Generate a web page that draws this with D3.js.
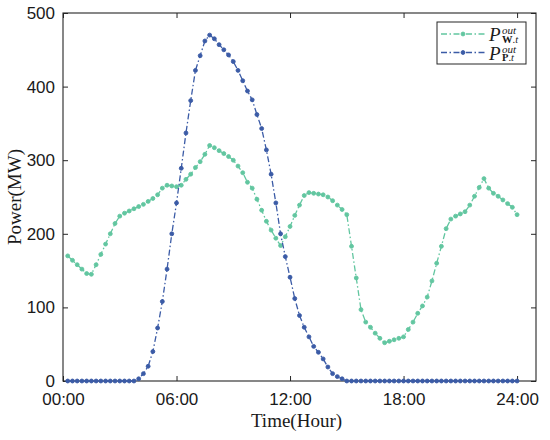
<!DOCTYPE html>
<html>
<head>
<meta charset="utf-8">
<script src="https://cdn.jsdelivr.net/npm/d3@7"></script>
<style>
  body { margin: 0; background: #fff; }
  svg { display: block; }
</style>
</head>
<body>
<div id="chart"></div>
<script>
// 15-minute steps, 00:15 .. 24:00
var stepHours = 0.25;
var timeSteps = d3.range(1, 97).map(function(k) { return k * stepHours; });

var xTicks = [0, 6, 12, 18, 24];
var yTicks = [0, 100, 200, 300, 400, 500];

// wind output P_W,t (MW)
var windOut = [
  170, 164, 158, 152, 146, 145, 158, 172, 186, 200, 214, 224,
  228, 231, 234, 237, 240, 244, 248, 253, 262, 266, 265, 264,
  266, 274, 281, 290, 298, 308, 320, 317, 313, 309, 305, 300,
  292, 283, 270, 262, 247, 232, 217, 205, 194, 184, 196, 210,
  225, 239, 252, 256, 255, 254, 253, 250, 245, 239, 233, 226,
  183, 140, 97, 80, 73, 65, 58, 52, 54, 56, 58, 60,
  70, 80, 92, 102, 114, 136, 160, 183, 207, 220, 224, 227,
  230, 239, 251, 263, 275, 262, 255, 251, 246, 241, 236, 226
];

// PV output P_P,t (MW)
var pvOut = [
  0, 0, 0, 0, 0, 0, 0, 0, 0, 0, 0, 0,
  0, 0, 0, 3, 10, 20, 40, 72, 108, 152, 200, 242,
  289, 337, 381, 422, 442, 462, 470, 465, 457, 450, 443, 434,
  422, 408, 394, 382, 362, 343, 314, 281, 242, 200, 169, 141,
  112, 89, 73, 60, 47, 39, 30, 19, 10, 6, 3, 0,
  0, 0, 0, 0, 0, 0, 0, 0, 0, 0, 0, 0,
  0, 0, 0, 0, 0, 0, 0, 0, 0, 0, 0, 0,
  0, 0, 0, 0, 0, 0, 0, 0, 0, 0, 0, 0
];

var windColor = "#62c6a0";
var pvColor = "#3b5ba6";
var axisColor = "#262626";
var dashDot = "6,2.5,1.5,2.5";
var serif = "'Times New Roman', 'Liberation Serif', serif";

var width = 550, height = 440;
var marginLeft = 63, marginRight = 14, marginTop = 13, marginBottom = 59;
var plotRight = width - marginRight;
var plotBottom = height - marginBottom;

var svg = d3.select("#chart").append("svg")
    .attr("width", width)
    .attr("height", height);

var xScale = d3.scaleLinear().domain([0, 25]).range([marginLeft, plotRight]);
var yScale = d3.scaleLinear().domain([0, 500]).range([plotBottom, marginTop]);

var hourFmt = function(h) { return d3.format("02d")(h) + ":00"; };

// bottom axis, ticks inward
var xAxis = svg.append("g")
    .attr("transform", "translate(0," + plotBottom + ")")
    .call(d3.axisBottom(xScale).tickValues(xTicks).tickFormat(hourFmt).tickSizeInner(-5).tickSizeOuter(0).tickPadding(12));
// left axis
var yAxis = svg.append("g")
    .attr("transform", "translate(" + marginLeft + ",0)")
    .call(d3.axisLeft(yScale).tickValues(yTicks).tickSizeInner(-5).tickSizeOuter(0).tickPadding(8));
// top + right ticks without labels
var xAxisTop = svg.append("g")
    .attr("transform", "translate(0," + marginTop + ")")
    .call(d3.axisTop(xScale).tickValues(xTicks).tickFormat("").tickSizeInner(-5).tickSizeOuter(0));
var yAxisRight = svg.append("g")
    .attr("transform", "translate(" + plotRight + ",0)")
    .call(d3.axisRight(yScale).tickValues(yTicks).tickFormat("").tickSizeInner(-5).tickSizeOuter(0));

[xAxis, yAxis, xAxisTop, yAxisRight].forEach(function(a) {
    a.select(".domain").remove();
    a.selectAll("line").attr("stroke", axisColor).attr("stroke-width", 1);
    a.selectAll("text")
        .attr("fill", "#1a1a1a")
        .style("font-family", "Arial, 'Liberation Sans', sans-serif")
        .style("font-size", "17px");
});

// plot box
svg.append("rect")
    .attr("x", marginLeft)
    .attr("y", marginTop)
    .attr("width", plotRight - marginLeft)
    .attr("height", plotBottom - marginTop)
    .attr("fill", "none")
    .attr("stroke", axisColor)
    .attr("stroke-width", 1.1);

// axis titles
svg.append("text")
    .attr("x", (marginLeft + plotRight) / 2 - 3)
    .attr("y", 427)
    .attr("text-anchor", "middle")
    .style("font-family", serif)
    .style("font-size", "19px")
    .attr("fill", "#1a1a1a")
    .text("Time(Hour)");

svg.append("text")
    .attr("transform", "translate(21," + ((marginTop + plotBottom) / 2) + ") rotate(-90)")
    .attr("text-anchor", "middle")
    .style("font-family", serif)
    .style("font-size", "19px")
    .attr("fill", "#1a1a1a")
    .text("Power(MW)");

var series = [
    { name: "W", values: windOut, color: windColor },
    { name: "P", values: pvOut, color: pvColor }
];

var line = d3.line()
    .x(function(d, i) { return xScale(timeSteps[i]); })
    .y(function(d) { return yScale(d); });

var marker = d3.symbol().type(d3.symbolCircle).size(12);

series.forEach(function(s) {
    var g = svg.append("g");
    g.append("path")
        .datum(s.values)
        .attr("d", line)
        .attr("fill", "none")
        .attr("stroke", s.color)
        .attr("stroke-width", 1.3)
        .attr("stroke-dasharray", dashDot);
    g.selectAll("path.pt").data(s.values).enter()
        .append("path")
        .attr("class", "pt")
        .attr("d", marker)
        .attr("transform", function(d, i) {
            return "translate(" + xScale(timeSteps[i]) + "," + yScale(d) + ")";
        })
        .attr("fill", s.color)
        .attr("stroke", s.color)
        .attr("stroke-width", 0.9);
});

// legend
var legend = svg.append("g");
legend.append("rect")
    .attr("x", 437)
    .attr("y", 22)
    .attr("width", 89)
    .attr("height", 42)
    .attr("fill", "#fff")
    .attr("stroke", axisColor)
    .attr("stroke-width", 1);

series.forEach(function(s, i) {
    var ly = 34 + i * 18.5;
    legend.append("line")
        .attr("x1", 441).attr("x2", 485)
        .attr("y1", ly).attr("y2", ly)
        .attr("stroke", s.color)
        .attr("stroke-width", 1.3)
        .attr("stroke-dasharray", dashDot);
    legend.append("path")
        .attr("d", marker)
        .attr("transform", "translate(463," + ly + ")")
        .attr("fill", s.color)
        .attr("stroke", s.color)
        .attr("stroke-width", 0.9);
    legend.append("text")
        .attr("x", 489).attr("y", ly + 7)
        .style("font-family", serif)
        .style("font-size", "19px")
        .style("font-style", "italic")
        .attr("fill", "#1a1a1a")
        .text("P");
    legend.append("text")
        .attr("x", 502).attr("y", ly)
        .style("font-family", serif)
        .style("font-size", "11px")
        .style("font-style", "italic")
        .attr("fill", "#1a1a1a")
        .text("out");
    var sub = legend.append("text")
        .attr("x", 502).attr("y", ly + 8.5)
        .style("font-family", serif)
        .style("font-size", "10.5px")
        .attr("fill", "#1a1a1a");
    sub.append("tspan").style("font-weight", "bold").text(s.name);
    sub.append("tspan").text(".");
    sub.append("tspan").style("font-style", "italic").text("t");
});
</script>
</body>
</html>
